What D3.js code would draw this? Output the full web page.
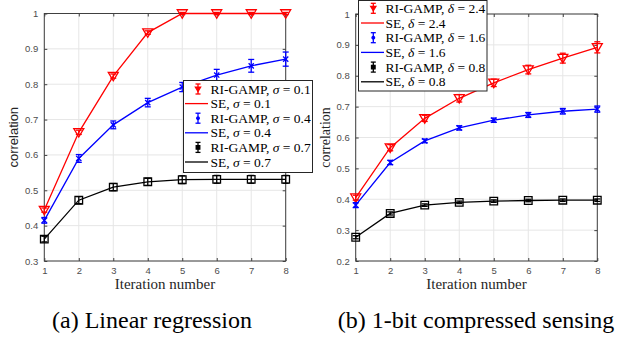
<!DOCTYPE html>
<html><head><meta charset="utf-8">
<script src="https://cdn.jsdelivr.net/npm/d3@7"></script>
<style>body{margin:0;background:#fff;}svg{display:block;}</style>
</head><body>
<svg id="c" width="621" height="339"></svg>
<script>
const iterations = [1,2,3,4,5,6,7,8];
// Panel (a) Linear regression
const linRed   = [0.444,0.664,0.823,0.946,1.0,1.0,1.0,1.0];
const linRedErr= [0.006,0.006,0.006,0.005,0.003,0.003,0.003,0.003];
const linBlue  = [0.415,0.590,0.685,0.748,0.792,0.826,0.852,0.871];
const linBlueErr=[0.008,0.011,0.011,0.012,0.013,0.016,0.018,0.020];
const linBlack = [0.362,0.472,0.509,0.524,0.530,0.531,0.531,0.531];
const linBlackErr=[0.008,0.010,0.010,0.010,0.011,0.011,0.011,0.011];
const linYTicks = [0.3,0.4,0.5,0.6,0.7,0.8,0.9,1];
const linLegend = [["σ","0.1"],["σ","0.4"],["σ","0.7"]];
// Panel (b) 1-bit compressed sensing
const csRed    = [0.405,0.567,0.662,0.727,0.777,0.820,0.857,0.892];
const csRedErr = [0.008,0.010,0.010,0.012,0.012,0.014,0.016,0.018];
const csBlue   = [0.381,0.519,0.589,0.631,0.656,0.673,0.685,0.692];
const csBlueErr= [0.008,0.007,0.006,0.007,0.007,0.008,0.009,0.010];
const csBlack  = [0.277,0.354,0.381,0.390,0.394,0.396,0.397,0.397];
const csBlackErr=[0.005,0.005,0.004,0.004,0.004,0.004,0.004,0.004];
const csYTicks = [0.2,0.3,0.4,0.5,0.6,0.7,0.8,0.9,1];
const csLegend = [["δ","2.4"],["δ","1.6"],["δ","0.8"]];
const captions = ["(a) Linear regression","(b) 1-bit compressed sensing"];
const colors = ["#ff0000","#0000ff","#000000"];
const markers = ["tri","x","sq"];

const svg = d3.select("#c");
const SERIF = "Liberation Serif, Times New Roman, serif";
const SANS = "Liberation Sans, Arial, Helvetica, sans-serif";

function markerPath(type, size){
  const s=size;
  if(type==="tri") return `M${-s},${-s*0.75}L${s},${-s*0.75}L0,${s*0.95}Z`;
  if(type==="sq") return `M${-s},${-s}L${s},${-s}L${s},${s}L${-s},${s}Z`;
  return `M${-s},${-s}L${s},${s}M${-s},${s}L${s},${-s}`;
}

function panel(opt){
  const g = svg.append("g");
  const x = d3.scaleLinear().domain([1,8]).range([opt.x0,opt.x1]);
  const y = d3.scaleLinear().domain(opt.yDomain).range([opt.y0,opt.y1]);
  // grid
  g.append("g").selectAll("line.v").data(iterations).join("line")
    .attr("x1",d=>x(d)).attr("x2",d=>x(d)).attr("y1",opt.y0).attr("y2",opt.y1)
    .attr("stroke","#e6e6e6").attr("stroke-width",1);
  g.append("g").selectAll("line.h").data(opt.yTicks).join("line")
    .attr("y1",d=>y(d)).attr("y2",d=>y(d)).attr("x1",opt.x0).attr("x2",opt.x1)
    .attr("stroke","#e6e6e6").attr("stroke-width",1);
  // axes
  const xa = d3.axisBottom(x).tickValues(iterations).tickFormat(d3.format("d")).tickSize(-3).tickPadding(6);
  const xt = d3.axisTop(x).tickValues(iterations).tickFormat("").tickSize(-3);
  const ya = d3.axisLeft(y).tickValues(opt.yTicks).tickFormat(d=>d===1?"1":d3.format(".1f")(d)).tickSize(-3).tickPadding(6);
  const yr = d3.axisRight(y).tickValues(opt.yTicks).tickFormat("").tickSize(-3);
  const style = sel=>{ sel.selectAll("path").attr("stroke","#404040").attr("stroke-width",1);
    sel.selectAll("line").attr("stroke","#404040");
    sel.selectAll("text").attr("fill","#4d4d4d").style("font-family",SANS).style("font-size","9.5px"); };
  g.append("g").attr("transform",`translate(0,${opt.y0})`).call(xa).call(style);
  g.append("g").attr("transform",`translate(0,${opt.y1})`).call(xt).call(style);
  g.append("g").attr("transform",`translate(${opt.x0},0)`).call(ya).call(style);
  g.append("g").attr("transform",`translate(${opt.x1},0)`).call(yr).call(style);
  g.selectAll(".domain").attr("d",null);
  g.append("rect").attr("x",opt.x0).attr("y",opt.y1).attr("width",opt.x1-opt.x0).attr("height",opt.y0-opt.y1)
    .attr("fill","none").attr("stroke","#404040").attr("stroke-width",1);

  const line = d3.line().x((d,i)=>x(iterations[i])).y(d=>y(d));
  opt.series.forEach((s,k)=>{
    const c=colors[k];
    g.append("path").datum(s.v).attr("d",line).attr("fill","none").attr("stroke",c).attr("stroke-width",1.3);
    const eg=g.append("g").attr("stroke",c).attr("stroke-width",1.3).attr("fill","none");
    s.v.forEach((v,i)=>{
      const cx=x(iterations[i]), e=s.e[i];
      eg.append("line").attr("x1",cx).attr("x2",cx).attr("y1",y(v-e)).attr("y2",y(v+e));
      eg.append("line").attr("x1",cx-3).attr("x2",cx+3).attr("y1",y(v-e)).attr("y2",y(v-e));
      eg.append("line").attr("x1",cx-3).attr("x2",cx+3).attr("y1",y(v+e)).attr("y2",y(v+e));
      const sz = markers[k]==="tri"?5:(markers[k]==="sq"?3.8:2.6);
      eg.append("path").attr("transform",`translate(${cx},${y(v)})`).attr("d",markerPath(markers[k],sz));
    });
  });
  // axis labels
  g.append("text").attr("x",(opt.x0+opt.x1)/2).attr("y",289).attr("text-anchor","middle")
    .style("font-family",SERIF).style("font-size","15px").attr("fill","#262626").text("Iteration number");
  g.append("text").attr("transform",`translate(${opt.ylabX},${(opt.y0+opt.y1)/2}) rotate(-90)`)
    .attr("text-anchor","middle").style("font-family",opt.ylabFont).style("font-size",opt.ylabSize+"px").attr("fill","#262626").text("correlation");
  // caption
  svg.append("text").attr("x",opt.capX).attr("y",328).attr("text-anchor","middle")
    .style("font-family",SERIF).style("font-size","24px").attr("fill","#000").text(opt.caption);
  // legend
  const L=opt.legend;
  const lg=svg.append("g");
  lg.append("rect").attr("x",L.x).attr("y",L.y).attr("width",L.w).attr("height",L.h)
    .attr("fill","#fff").attr("stroke","#262626").attr("stroke-width",1);
  opt.legendLabels.forEach((lab,k)=>{
    const c=colors[k];
    const ry1=L.row0+(2*k)*L.step, ry2=L.row0+(2*k+1)*L.step;
    const sx=L.symX;
    const eg=lg.append("g").attr("stroke",c).attr("stroke-width",1.3).attr("fill",c);
    eg.append("line").attr("x1",sx).attr("x2",sx).attr("y1",ry1-5).attr("y2",ry1+5);
    eg.append("line").attr("x1",sx-2.5).attr("x2",sx+2.5).attr("y1",ry1-5).attr("y2",ry1-5);
    eg.append("line").attr("x1",sx-2.5).attr("x2",sx+2.5).attr("y1",ry1+5).attr("y2",ry1+5);
    const sz = markers[k]==="tri"?2.6:(markers[k]==="sq"?1.8:1.2);
    eg.append("path").attr("transform",`translate(${sx},${ry1})`).attr("d",markers[k]==="x"?"M-1.3,0a1.3,1.3 0 1,0 2.6,0a1.3,1.3 0 1,0 -2.6,0":markerPath(markers[k],sz));
    lg.append("line").attr("x1",L.lineX0).attr("x2",L.lineX1).attr("y1",ry2).attr("y2",ry2).attr("stroke",c).attr("stroke-width",1.3);
    const t1=lg.append("text").attr("x",L.textX).attr("y",ry1+4.5).style("font-family",SERIF).style("font-size","13.5px").attr("fill","#000");
    t1.append("tspan").text("RI-GAMP, ");
    t1.append("tspan").attr("font-style","italic").text(lab[0]);
    t1.append("tspan").text(" = "+lab[1]);
    const t2=lg.append("text").attr("x",L.textX).attr("y",ry2+4.5).style("font-family",SERIF).style("font-size","13.5px").attr("fill","#000");
    t2.append("tspan").text("SE, ");
    t2.append("tspan").attr("font-style","italic").text(lab[0]);
    t2.append("tspan").text(" = "+lab[1]);
  });
}

panel({x0:44.3,x1:285.7,y0:261,y1:13.5,yDomain:[0.3,1],yTicks:linYTicks,
  series:[{v:linRed,e:linRedErr},{v:linBlue,e:linBlueErr},{v:linBlack,e:linBlackErr}],
  ylabX:18,ylabFont:SANS,ylabSize:13,caption:captions[0],capX:152,
  legendLabels:linLegend,
  legend:{x:183.5,y:80.5,w:129,h:92,row0:89,step:14.6,symX:198,lineX0:185,lineX1:208,textX:210.5}});
panel({x0:355.7,x1:597.3,y0:261,y1:14,yDomain:[0.2,1],yTicks:csYTicks,
  series:[{v:csRed,e:csRedErr},{v:csBlue,e:csBlueErr},{v:csBlack,e:csBlackErr}],
  ylabX:330,ylabFont:SERIF,ylabSize:14,caption:captions[1],capX:476,
  legendLabels:csLegend,
  legend:{x:358.5,y:0.5,w:128.5,h:90.5,row0:8.3,step:14.7,symX:373.3,lineX0:361,lineX1:384,textX:385.5}});
</script>
</body></html>
